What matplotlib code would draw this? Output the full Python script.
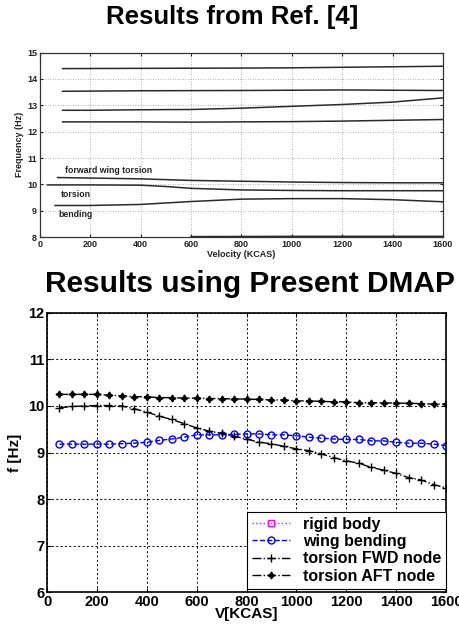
import matplotlib
matplotlib.use("Agg")
import matplotlib.pyplot as plt

plt.rcParams['font.family'] = ['Liberation Sans', 'DejaVu Sans']

# ---- reference chart (scanned, top) ----
ref_v = {
    "m14": [90, 400, 800, 1000, 1200, 1400, 1600],
    "m13b": [90, 400, 800, 1200, 1600],
    "m13a": [90, 200, 400, 600, 800, 1000, 1200, 1400, 1600],
    "m12": [90, 400, 600, 1000, 1200, 1600],
    "fwd": [70, 200, 400, 600, 800, 1000, 1200, 1400, 1600],
    "tor": [30, 200, 400, 500, 600, 800, 1000, 1200, 1400, 1600],
    "bend": [60, 200, 400, 600, 800, 1000, 1200, 1400, 1600],
    "low": [600, 1000, 1600],
}
ref_f = {
    "m14": [14.39, 14.40, 14.41, 14.42, 14.44, 14.46, 14.48],
    "m13b": [13.53, 13.55, 13.56, 13.58, 13.56],
    "m13a": [12.81, 12.81, 12.83, 12.84, 12.89, 12.96, 13.03, 13.12, 13.28],
    "m12": [12.37, 12.37, 12.36, 12.38, 12.40, 12.46],
    "fwd": [10.26, 10.24, 10.21, 10.15, 10.12, 10.09, 10.07, 10.06, 10.06],
    "tor": [9.98, 9.98, 9.97, 9.92, 9.85, 9.79, 9.77, 9.76, 9.76, 9.76],
    "bend": [9.20, 9.20, 9.24, 9.35, 9.44, 9.46, 9.46, 9.42, 9.34],
    "low": [8.02, 8.03, 8.03],
}

# ---- present DMAP results (bottom) ----
V = [50, 100, 150, 200, 250, 300, 350, 400, 450, 500, 550, 600, 650, 700, 750, 800,
     850, 900, 950, 1000, 1050, 1100, 1150, 1200, 1250, 1300, 1350, 1400, 1450, 1500, 1550, 1600]
wing_bending = [9.18, 9.18, 9.18, 9.18, 9.18, 9.19, 9.20, 9.22, 9.26, 9.29, 9.33, 9.38, 9.38, 9.38, 9.39, 9.40,
                9.40, 9.38, 9.38, 9.36, 9.33, 9.31, 9.29, 9.28, 9.28, 9.25, 9.25, 9.22, 9.20, 9.20, 9.18, 9.15]
torsion_fwd = [9.96, 9.99, 10.00, 10.01, 10.01, 10.00, 9.94, 9.87, 9.78, 9.71, 9.62, 9.53, 9.46, 9.41, 9.35, 9.29,
               9.22, 9.19, 9.13, 9.08, 9.04, 8.97, 8.89, 8.82, 8.77, 8.68, 8.62, 8.55, 8.46, 8.41, 8.31, 8.24]
torsion_aft = [10.25, 10.25, 10.25, 10.25, 10.23, 10.22, 10.20, 10.20, 10.18, 10.18, 10.17, 10.17, 10.16, 10.16, 10.15, 10.15,
               10.14, 10.13, 10.13, 10.11, 10.11, 10.10, 10.09, 10.09, 10.07, 10.07, 10.07, 10.06, 10.06, 10.05, 10.04, 10.04]

xticks = [0, 200, 400, 600, 800, 1000, 1200, 1400, 1600]

fig = plt.figure(figsize=(4.59, 6.29), dpi=100)

# top: reproduction of the reference chart
ax1 = fig.add_axes([0.087, 0.623, 0.878, 0.2935])
for k in ref_v:
    ax1.plot(ref_v[k], ref_f[k], color="#2a2a2a", lw=1.1)
ax1.set_xlim(0, 1600)
ax1.set_ylim(8, 15)
ax1.set_xticks(xticks)
ax1.set_yticks(range(8, 16))
ax1.grid(True, color="#9a9a9a", linestyle=(0, (1, 2)), lw=0.6)
ax1.tick_params(direction="in", top=True, right=True, labelsize=6.5, length=2.5, pad=2, colors="#222222")
for lab in ax1.get_xticklabels() + ax1.get_yticklabels():
    lab.set_fontweight("bold")
ax1.set_xlabel("Velocity (KCAS)", fontsize=6.5, labelpad=1, color="#222222", fontweight="bold")
ax1.set_ylabel("Frequency (Hz)", fontsize=6.5, labelpad=2, color="#222222", fontweight="bold")
for s in ax1.spines.values():
    s.set_linewidth(0.9)
    s.set_color("#333333")
ax1.text(99, 10.51, "forward wing torsion", fontsize=6.3, va="center", color="#222222", fontweight="bold")
ax1.text(83, 9.62, "torsion", fontsize=6.3, va="center", color="#222222", fontweight="bold")
ax1.text(73, 8.87, "bending", fontsize=6.3, va="center", color="#222222", fontweight="bold")
fig.text(0.505, 0.962, "Results from Ref. [4]", ha="center", va="baseline",
         fontsize=18.5, fontweight="bold")

# bottom: present DMAP results
ax2 = fig.add_axes([0.1024, 0.0588, 0.8693, 0.4436])
ax2.plot([], [], color="magenta", linestyle=":", marker="s", markersize=5,
         markerfacecolor="none", lw=1, label="rigid body")
ax2.plot(V, wing_bending, color="blue", linestyle="--", marker="o", markersize=5,
         markerfacecolor="none", lw=1, label="wing bending")
ax2.plot(V, torsion_fwd, color="black", linestyle="-.", marker="+", markersize=6,
         lw=1, label="torsion FWD node")
ax2.plot(V, torsion_aft, color="black", linestyle="-.", marker=(4, 1, 0), markersize=5,
         lw=1, label="torsion AFT node")
ax2.set_xlim(0, 1600)
ax2.set_ylim(6, 12)
ax2.set_xticks(xticks)
ax2.set_yticks(range(6, 13))
ax2.grid(True, color="black", linestyle=(0, (2, 2.5)), lw=0.7)
ax2.tick_params(direction="in", top=True, right=True, labelsize=10.5, length=3, pad=2)
for lab in ax2.get_xticklabels() + ax2.get_yticklabels():
    lab.set_fontweight("bold")
ax2.set_xlabel("V[KCAS]", fontsize=11, fontweight="bold", labelpad=-1)
ax2.set_ylabel("f [Hz]", fontsize=11, fontweight="bold", labelpad=4)
for s in ax2.spines.values():
    s.set_linewidth(1.2)
leg = ax2.legend(loc="lower right", bbox_to_anchor=(1.0, 0.012), borderaxespad=0,
                 fancybox=False, edgecolor="black", framealpha=1, handlelength=2.4,
                 prop={"weight": "bold", "size": 11.5}, labelspacing=0.15,
                 borderpad=0.3, handletextpad=0.8)
leg.get_frame().set_linewidth(0.8)
fig.text(0.545, 0.536, "Results using Present DMAP", ha="center", va="baseline",
         fontsize=21.5, fontweight="bold")

fig.savefig("out.png", dpi=100)
